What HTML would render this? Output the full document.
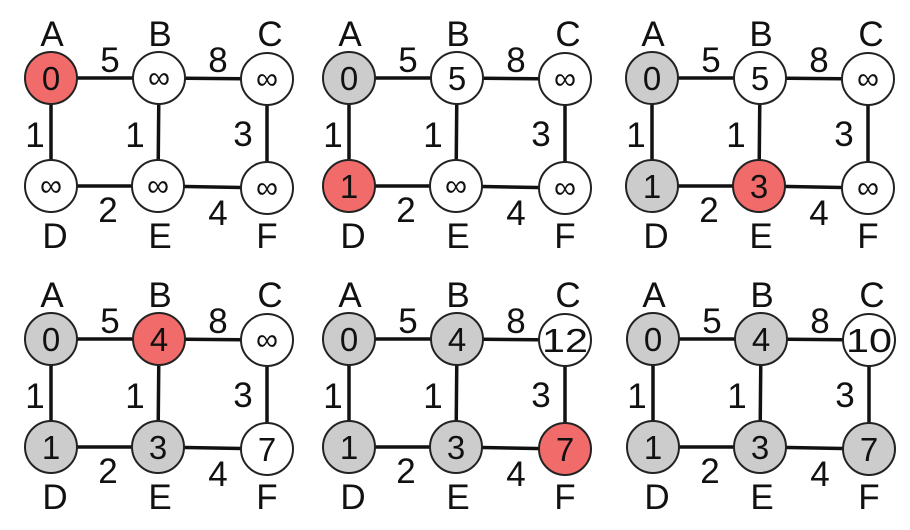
<!DOCTYPE html>
<html><head><meta charset="utf-8"><style>
html,body{margin:0;padding:0;background:#fff;}
svg{display:block;}
text{font-family:"Liberation Sans",sans-serif;fill:#111;text-anchor:middle;}
.L{font-size:35px;}
.n{font-size:33px;}
.i{font-size:31px;}
line{stroke:#111;stroke-width:3.5;}
circle{stroke:#222;stroke-width:2;}
</style></head><body>
<svg width="910" height="530" viewBox="0 0 910 530">
<defs>
<g id="base">
<line x1="51" y1="78" x2="159" y2="78"/><line x1="159" y1="78" x2="267" y2="79"/>
<line x1="51" y1="78" x2="51" y2="186"/><line x1="159" y1="78" x2="158" y2="186"/>
<line x1="267" y1="79" x2="267" y2="188"/>
<line x1="51" y1="186" x2="158" y2="186"/><line x1="158" y1="186" x2="267" y2="188"/>
<text class="L" x="52" y="46">A</text><text class="L" x="160" y="46">B</text><text class="L" x="270" y="46">C</text>
<text class="L" x="55" y="248">D</text><text class="L" x="160" y="248">E</text><text class="L" x="267" y="248">F</text>
<text class="L" x="110" y="72">5</text><text class="L" x="218" y="72">8</text>
<text class="L" x="35" y="147">1</text><text class="L" x="135" y="147">1</text><text class="L" x="243" y="146">3</text>
<text class="L" x="108" y="222">2</text><text class="L" x="218" y="225">4</text>
</g>
</defs>

<g transform="translate(0,0)">
<use href="#base"/>
<circle cx="51" cy="78" r="26" fill="#f26b6b"/><text class="n" x="51" y="90">0</text>
<circle cx="159" cy="78" r="26" fill="#fff"/><text class="i" x="159" y="88">∞</text>
<circle cx="267" cy="79" r="26" fill="#fff"/><text class="i" x="267" y="89">∞</text>
<circle cx="51" cy="186" r="26" fill="#fff"/><text class="i" x="51" y="196">∞</text>
<circle cx="158" cy="186" r="26" fill="#fff"/><text class="i" x="158" y="196">∞</text>
<circle cx="267" cy="188" r="26" fill="#fff"/><text class="i" x="267" y="198">∞</text>
</g>

<g transform="translate(298,0)">
<use href="#base"/>
<circle cx="51" cy="78" r="26" fill="#cccccc"/><text class="n" x="51" y="90">0</text>
<circle cx="159" cy="78" r="26" fill="#fff"/><text class="n" x="159" y="90">5</text>
<circle cx="267" cy="79" r="26" fill="#fff"/><text class="i" x="267" y="89">∞</text>
<circle cx="51" cy="186" r="26" fill="#f26b6b"/><text class="n" x="51" y="198">1</text>
<circle cx="158" cy="186" r="26" fill="#fff"/><text class="i" x="158" y="196">∞</text>
<circle cx="267" cy="188" r="26" fill="#fff"/><text class="i" x="267" y="198">∞</text>
</g>

<g transform="translate(601,0)">
<use href="#base"/>
<circle cx="51" cy="78" r="26" fill="#cccccc"/><text class="n" x="51" y="90">0</text>
<circle cx="159" cy="78" r="26" fill="#fff"/><text class="n" x="159" y="90">5</text>
<circle cx="267" cy="79" r="26" fill="#fff"/><text class="i" x="267" y="89">∞</text>
<circle cx="51" cy="186" r="26" fill="#cccccc"/><text class="n" x="51" y="198">1</text>
<circle cx="158" cy="186" r="26" fill="#f26b6b"/><text class="n" x="158" y="198">3</text>
<circle cx="267" cy="188" r="26" fill="#fff"/><text class="i" x="267" y="198">∞</text>
</g>

<g transform="translate(0,261)">
<use href="#base"/>
<circle cx="51" cy="78" r="26" fill="#cccccc"/><text class="n" x="51" y="90">0</text>
<circle cx="159" cy="78" r="26" fill="#f26b6b"/><text class="n" x="159" y="90">4</text>
<circle cx="267" cy="79" r="26" fill="#fff"/><text class="i" x="267" y="89">∞</text>
<circle cx="51" cy="186" r="26" fill="#cccccc"/><text class="n" x="51" y="198">1</text>
<circle cx="158" cy="186" r="26" fill="#cccccc"/><text class="n" x="158" y="198">3</text>
<circle cx="267" cy="188" r="26" fill="#fff"/><text class="n" x="267" y="200">7</text>
</g>

<g transform="translate(298,261)">
<use href="#base"/>
<circle cx="51" cy="78" r="26" fill="#cccccc"/><text class="n" x="51" y="90">0</text>
<circle cx="159" cy="78" r="26" fill="#cccccc"/><text class="n" x="159" y="90">4</text>
<circle cx="267" cy="79" r="26" fill="#fff"/><text class="n" x="267" y="91" textLength="46" lengthAdjust="spacingAndGlyphs">12</text>
<circle cx="51" cy="186" r="26" fill="#cccccc"/><text class="n" x="51" y="198">1</text>
<circle cx="158" cy="186" r="26" fill="#cccccc"/><text class="n" x="158" y="198">3</text>
<circle cx="267" cy="188" r="26" fill="#f26b6b"/><text class="n" x="267" y="200">7</text>
</g>

<g transform="translate(602,261)">
<use href="#base"/>
<circle cx="51" cy="78" r="26" fill="#cccccc"/><text class="n" x="51" y="90">0</text>
<circle cx="159" cy="78" r="26" fill="#cccccc"/><text class="n" x="159" y="90">4</text>
<circle cx="267" cy="79" r="26" fill="#fff"/><text class="n" x="267" y="91" textLength="46" lengthAdjust="spacingAndGlyphs">10</text>
<circle cx="51" cy="186" r="26" fill="#cccccc"/><text class="n" x="51" y="198">1</text>
<circle cx="158" cy="186" r="26" fill="#cccccc"/><text class="n" x="158" y="198">3</text>
<circle cx="267" cy="188" r="26" fill="#cccccc"/><text class="n" x="267" y="200">7</text>
</g>
</svg>
</body></html>
